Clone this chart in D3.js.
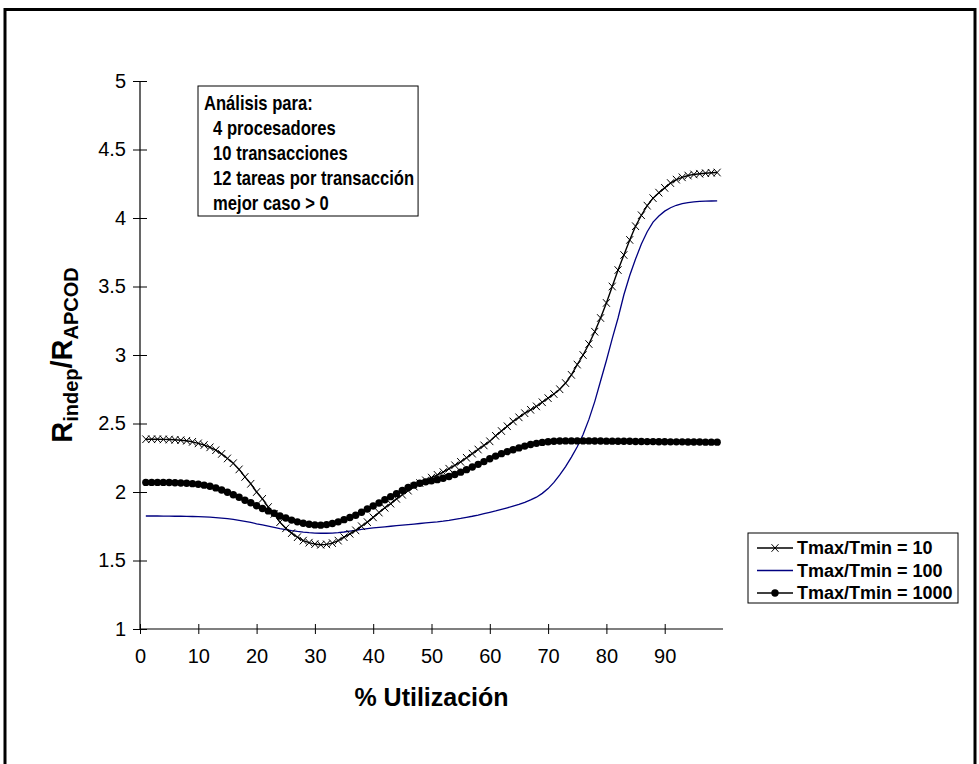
<!DOCTYPE html>
<html>
<head>
<meta charset="utf-8">
<script src="https://cdn.jsdelivr.net/npm/d3@7"></script>
<style>
  body { margin: 0; background: #fff; }
  text { font-family: "Liberation Sans", Arial, sans-serif; }
</style>
</head>
<body>
<script>
// % utilizacion (one point per unit)
var utilizacion = [1,2,3,4,5,6,7,8,9,10,11,12,13,14,15,16,17,18,19,20,
  21,22,23,24,25,26,27,28,29,30,31,32,33,34,35,36,37,38,39,40,
  41,42,43,44,45,46,47,48,49,50,51,52,53,54,55,56,57,58,59,60,
  61,62,63,64,65,66,67,68,69,70,71,72,73,74,75,76,77,78,79,80,
  81,82,83,84,85,86,87,88,89,90,91,92,93,94,95,96,97,98,99]

// Tmax/Tmin = 10
var ratio10 = [2.385,2.385,2.385,2.384,2.383,2.381,2.378,2.374,2.366,2.355,
  2.343,2.326,2.305,2.278,2.245,2.21,2.165,2.11,2.06,2.00,
  1.95,1.89,1.84,1.78,1.735,1.70,1.67,1.645,1.63,1.62,
  1.615,1.618,1.627,1.645,1.67,1.695,1.72,1.75,1.78,1.815,
  1.85,1.885,1.915,1.95,1.98,2.01,2.04,2.065,2.085,2.105,
  2.125,2.145,2.17,2.195,2.22,2.25,2.28,2.31,2.34,2.37,
  2.41,2.445,2.48,2.515,2.545,2.575,2.60,2.625,2.655,2.685,
  2.715,2.75,2.795,2.855,2.93,3.00,3.08,3.17,3.27,3.38,
  3.50,3.62,3.73,3.84,3.94,4.02,4.09,4.145,4.185,4.22,
  4.255,4.28,4.297,4.31,4.318,4.323,4.327,4.33,4.332]

// Tmax/Tmin = 100
var ratio100 = [1.825,1.825,1.825,1.824,1.824,1.823,1.823,1.822,1.821,1.82,
  1.818,1.816,1.813,1.81,1.805,1.80,1.793,1.786,1.778,1.768,
  1.76,1.751,1.742,1.733,1.725,1.718,1.712,1.707,1.703,1.70,
  1.699,1.699,1.70,1.703,1.708,1.714,1.72,1.727,1.733,1.738,
  1.742,1.746,1.75,1.754,1.758,1.762,1.766,1.77,1.774,1.778,
  1.782,1.787,1.793,1.80,1.807,1.815,1.823,1.832,1.842,1.852,
  1.862,1.873,1.885,1.897,1.91,1.925,1.942,1.962,1.99,2.025,
  2.07,2.125,2.185,2.255,2.33,2.42,2.53,2.66,2.81,2.96,
  3.12,3.27,3.44,3.58,3.70,3.81,3.90,3.97,4.015,4.05,
  4.075,4.093,4.105,4.113,4.118,4.121,4.123,4.124,4.125]

// Tmax/Tmin = 1000
var ratio1000 = [2.07,2.07,2.07,2.07,2.069,2.068,2.066,2.064,2.061,2.057,
  2.05,2.042,2.03,2.015,1.998,1.98,1.962,1.94,1.922,1.90,
  1.88,1.862,1.845,1.825,1.81,1.795,1.782,1.772,1.765,1.76,
  1.758,1.762,1.77,1.782,1.798,1.814,1.83,1.852,1.876,1.898,
  1.92,1.943,1.966,1.988,2.012,2.033,2.05,2.064,2.074,2.082,
  2.09,2.10,2.113,2.128,2.145,2.163,2.182,2.202,2.222,2.243,
  2.262,2.28,2.295,2.308,2.322,2.335,2.347,2.355,2.362,2.367,
  2.37,2.372,2.373,2.373,2.373,2.373,2.373,2.372,2.372,2.371,
  2.371,2.37,2.37,2.37,2.369,2.369,2.368,2.368,2.367,2.367,
  2.366,2.366,2.366,2.365,2.365,2.365,2.364,2.364,2.364]

var xTicks = [0,10,20,30,40,50,60,70,80,90]
var yTicks = [1,1.5,2,2.5,3,3.5,4,4.5,5]
var seriesNames = ["Tmax/Tmin = 10", "Tmax/Tmin = 100", "Tmax/Tmin = 1000"]
var notes = ["Análisis para:", "4 procesadores", "10 transacciones", "12 tareas por transacción", "mejor caso > 0"]

var W = 979, H = 764
var svg = d3.select("body").append("svg")
  .attr("width", W).attr("height", H)

// outer frame
svg.append("rect")
  .attr("x", 5).attr("y", 9.5).attr("width", 970).attr("height", 780)
  .attr("fill", "none").attr("stroke", "#000").attr("stroke-width", 3)

var x = d3.scaleLinear().domain([0, 100]).range([140, 723])
var y = d3.scaleLinear().domain([1, 5]).range([629, 81])

// y axis (cross ticks)
var yAxis = svg.append("g")
  .attr("transform", "translate(" + x(0) + ",0)")
  .call(d3.axisLeft(y).tickValues(yTicks).tickSize(7).tickPadding(7)
    .tickFormat(d3.format("")))
yAxis.select(".domain").attr("d", "M0," + y(5) + "V" + y(1)).attr("stroke-width", 1.2)
yAxis.selectAll(".tick line").attr("x2", 7).attr("x1", -7)
yAxis.selectAll(".tick text").attr("font-size", 20).attr("font-family", "Liberation Sans, Arial, sans-serif")

// x axis
var xAxis = svg.append("g")
  .attr("transform", "translate(0," + y(1) + ")")
  .call(d3.axisBottom(x).tickValues(xTicks).tickSize(6).tickPadding(14)
    .tickFormat(d3.format("d")))
xAxis.select(".domain").attr("d", "M" + x(0) + ",0H" + x(100)).attr("stroke-width", 1.2)
xAxis.selectAll(".tick line").attr("y1", -5).attr("y2", 5)
xAxis.selectAll(".tick text").attr("font-size", 20).attr("font-family", "Liberation Sans, Arial, sans-serif")

// axis titles
svg.append("text")
  .attr("x", (x(0) + x(100)) / 2).attr("y", 706)
  .attr("text-anchor", "middle").attr("font-size", 25).attr("font-weight", "bold")
  .text("% Utilización")

var yl = svg.append("text")
  .attr("transform", "translate(72," + ((y(1) + y(5)) / 2) + ") rotate(-90)")
  .attr("text-anchor", "middle").attr("font-size", 29).attr("font-weight", "bold")
yl.append("tspan").text("R")
yl.append("tspan").attr("font-size", 20).attr("dy", 6).text("indep")
yl.append("tspan").attr("dy", -6).text("/R")
yl.append("tspan").attr("font-size", 20).attr("dy", 6).text("APCOD")

// data
function pts(vals) {
  return utilizacion.map(function(u, i) { return {u: u, v: vals[i]} })
}
var line = d3.line().x(function(d) { return x(d.u) }).y(function(d) { return y(d.v) })

svg.append("path").attr("d", line(pts(ratio100)))
  .attr("fill", "none").attr("stroke", "#000080").attr("stroke-width", 1.3)

svg.append("path").attr("d", line(pts(ratio1000)))
  .attr("fill", "none").attr("stroke", "#000").attr("stroke-width", 1.4)
svg.append("g").selectAll("circle").data(pts(ratio1000)).join("circle")
  .attr("cx", function(d) { return x(d.u) }).attr("cy", function(d) { return y(d.v) })
  .attr("r", 3.7).attr("fill", "#000")

svg.append("path").attr("d", line(pts(ratio10)))
  .attr("fill", "none").attr("stroke", "#000").attr("stroke-width", 1.4)
var cross = "M-3.5,-3.8L3.5,3.8M-3.5,3.8L3.5,-3.8"
svg.append("g").selectAll("path").data(pts(ratio10)).join("path")
  .attr("d", cross)
  .attr("transform", function(d) { return "translate(" + x(d.u) + "," + y(d.v) + ")" })
  .attr("fill", "none").attr("stroke", "#000").attr("stroke-width", 1)

// annotation box (text drawn a bit narrow, as in the original)
var note = svg.append("g")
var noteRect = note.append("rect")
  .attr("fill", "#fff").attr("stroke", "#000").attr("stroke-width", 1)
var noteText = note.append("g").attr("transform", "translate(204,0) scale(0.83,1)")
notes.forEach(function(t, i) {
  noteText.append("text")
    .attr("x", i == 0 ? 0 : 11).attr("y", 110 + i * 25)
    .attr("font-size", 20).attr("font-weight", "bold")
    .text(t)
})
var nb = noteText.node().getBBox()
noteRect.attr("x", 198).attr("y", 86).attr("width", 204 + (nb.x + nb.width) * 0.83 - 198 + 4).attr("height", 130)

// legend
var lg = svg.append("g")
lg.append("rect").attr("x", 748).attr("y", 533).attr("width", 210).attr("height", 70)
  .attr("fill", "#fff").attr("stroke", "#000").attr("stroke-width", 1)
seriesNames.forEach(function(n, i) {
  var ly = 548 + i * 22.5
  lg.append("line").attr("x1", 757).attr("x2", 793).attr("y1", ly).attr("y2", ly)
    .attr("stroke", i == 1 ? "#000080" : "#000").attr("stroke-width", 1.3)
  if (i == 0) {
    lg.append("path").attr("d", cross)
      .attr("transform", "translate(775," + ly + ")")
      .attr("fill", "none").attr("stroke", "#000")
  }
  if (i == 2) {
    lg.append("circle").attr("cx", 775).attr("cy", ly).attr("r", 3.7).attr("fill", "#000")
  }
  lg.append("text").attr("x", 797).attr("y", ly + 6)
    .attr("font-size", 18).attr("font-weight", "bold").text(n)
})
</script>
</body>
</html>
